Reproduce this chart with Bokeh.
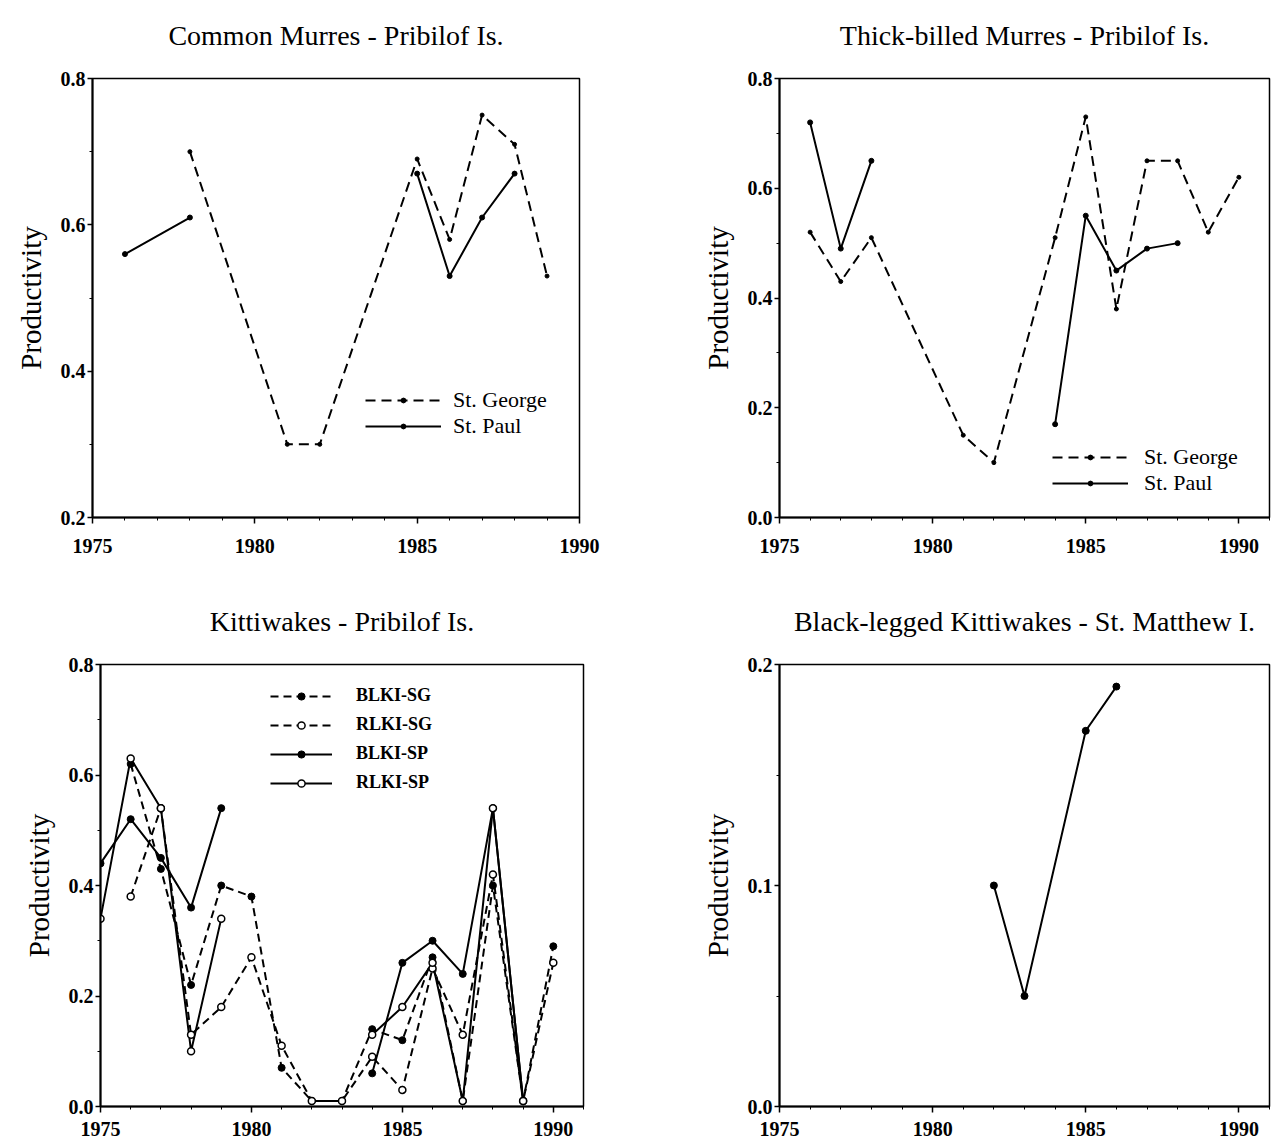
import math
from bokeh.plotting import figure
from bokeh.layouts import column, row
from bokeh.models import Range1d, FixedTicker, PrintfTickFormatter, Legend, LegendItem, Title
from bokeh.embed import file_html
from bokeh.resources import INLINE

nan = float("nan")

# ---- Common Murres - Pribilof Is. ----
cm_george_years = [1978, 1981, 1982, 1985, 1986, 1987, 1988, 1989]
cm_george_vals = [0.70, 0.30, 0.30, 0.69, 0.58, 0.75, 0.71, 0.53]
cm_paul_years = [1976, 1978, 1980, 1985, 1986, 1987, 1988]
cm_paul_vals = [0.56, 0.61, nan, 0.67, 0.53, 0.61, 0.67]

# ---- Thick-billed Murres - Pribilof Is. ----
tb_george_years = [1976, 1977, 1978, 1981, 1982, 1984, 1985, 1986, 1987, 1988, 1989, 1990]
tb_george_vals = [0.52, 0.43, 0.51, 0.15, 0.10, 0.51, 0.73, 0.38, 0.65, 0.65, 0.52, 0.62]
tb_paul_years = [1976, 1977, 1978, 1981, 1984, 1985, 1986, 1987, 1988]
tb_paul_vals = [0.72, 0.49, 0.65, nan, 0.17, 0.55, 0.45, 0.49, 0.50]

# ---- Kittiwakes - Pribilof Is. ----
kw_years = list(range(1975, 1991))
blki_sg = [nan, 0.62, 0.43, 0.22, 0.40, 0.38, 0.07, 0.01, 0.01, 0.14, 0.12, 0.27, 0.01, 0.40, 0.01, 0.29]
rlki_sg = [nan, 0.38, 0.54, 0.13, 0.18, 0.27, 0.11, 0.01, 0.01, 0.09, 0.03, 0.25, 0.13, 0.42, 0.01, 0.26]
blki_sp = [0.44, 0.52, 0.45, 0.36, 0.54, nan, nan, nan, nan, 0.06, 0.26, 0.30, 0.24, 0.54, 0.01, nan]
rlki_sp = [0.34, 0.63, 0.54, 0.10, 0.34, nan, nan, nan, nan, 0.13, 0.18, 0.26, 0.01, 0.54, 0.01, nan]

# ---- Black-legged Kittiwakes - St. Matthew I. ----
sm_years = [1982, 1983, 1985, 1986]
sm_vals = [0.10, 0.05, 0.17, 0.19]

titles = ["Common Murres - Pribilof Is.", "Thick-billed Murres - Pribilof Is.",
          "Kittiwakes - Pribilof Is.", "Black-legged Kittiwakes - St. Matthew I."]
x_major = [1975, 1980, 1985, 1990]
x_minor = list(range(1975, 1992))

FONT = "Liberation Serif"


def make_fig(title, xr, yr, yticks, yminor, fw, fh, bl, br, bt, bb, xstand, gap):
    p = figure(x_range=Range1d(*xr), y_range=Range1d(*yr),
               frame_width=fw, frame_height=fh,
               min_border_left=bl, min_border_right=br,
               min_border_top=bt, min_border_bottom=bb,
               output_backend="svg", toolbar_location=None)
    p.grid.visible = False
    p.outline_line_color = "black"
    p.outline_line_width = 1.5
    p.outline_line_alpha = 1
    p.background_fill_color = "white"
    p.border_fill_color = "white"

    # spacer (closest to frame) then the real title above it
    p.add_layout(Title(text=" ", text_font_size="1px", standoff=gap), "above")
    p.add_layout(Title(text=title, align="center", standoff=0, text_font=FONT,
                       text_font_size="28px", text_font_style="normal",
                       text_color="black"), "above")

    xa = p.xaxis[0]
    xa.ticker = FixedTicker(ticks=x_major, minor_ticks=x_minor)
    xa.formatter = PrintfTickFormatter(format="%d")
    ya = p.yaxis[0]
    ya.ticker = FixedTicker(ticks=yticks, minor_ticks=yminor)
    ya.formatter = PrintfTickFormatter(format="%.1f")
    ya.axis_label = "Productivity"
    for ax in (xa, ya):
        ax.axis_line_width = 2
        ax.axis_line_color = "black"
        ax.major_tick_line_color = "black"
        ax.minor_tick_line_color = "black"
        ax.major_tick_line_width = 1.5
        ax.minor_tick_line_width = 1
        ax.major_label_text_font = FONT
        ax.major_label_text_font_size = "20px"
        ax.major_label_text_font_style = "bold"
        ax.major_label_text_color = "black"
        ax.axis_label_text_font = FONT
        ax.axis_label_text_font_size = "29px"
        ax.axis_label_text_font_style = "normal"
        ax.axis_label_text_color = "black"
    xa.major_tick_out = 6
    xa.major_tick_in = 0
    xa.minor_tick_out = 3
    xa.minor_tick_in = 0
    xa.major_label_standoff = xstand
    ya.major_tick_out = 5
    ya.major_tick_in = 0
    ya.minor_tick_out = 3
    ya.minor_tick_in = 0
    ya.major_label_standoff = 2
    ya.axis_label_standoff = 11
    return p


def legend(p, items, loc, glyph_w, glyph_h, font_size, style, standoff, spacing):
    lg = Legend(items=[LegendItem(label=l, renderers=r) for l, r in items],
                location=loc, orientation="vertical")
    lg.border_line_alpha = 0
    lg.background_fill_alpha = 0
    lg.glyph_width = glyph_w
    lg.glyph_height = glyph_h
    lg.label_height = 20
    lg.label_standoff = standoff
    lg.spacing = spacing
    lg.padding = 0
    lg.margin = 0
    lg.label_text_font = FONT
    lg.label_text_font_size = font_size
    lg.label_text_font_style = style
    lg.label_text_color = "black"
    p.add_layout(lg, "center")


# Panel 1
p1 = make_fig(titles[0], (1975, 1990), (0.2, 0.8), [0.2, 0.4, 0.6, 0.8],
              [0.2, 0.3, 0.4, 0.5, 0.6, 0.7, 0.8], 487, 439, 92, 40, 78, 78, 15, 25)
g1 = p1.line(cm_george_years, cm_george_vals, line_color="black", line_width=2, line_dash="10 6")
g1s = p1.scatter(cm_george_years, cm_george_vals, size=4, color="black")
s1 = p1.line(cm_paul_years, cm_paul_vals, line_color="black", line_width=2)
s1s = p1.scatter(cm_paul_years, cm_paul_vals, size=5, color="black")
legend(p1, [("St. George", [g1, g1s]), ("St. Paul", [s1, s1s])], (273, 78), 76, 12, "22px", "normal", 12, 0)

# Panel 2
p2 = make_fig(titles[1], (1975, 1991), (0.0, 0.8), [0.0, 0.2, 0.4, 0.6, 0.8],
              [0.0, 0.1, 0.2, 0.3, 0.4, 0.5, 0.6, 0.7, 0.8], 490, 439, 160, 2, 78, 78, 15, 25)
g2 = p2.line(tb_george_years, tb_george_vals, line_color="black", line_width=2, line_dash="10 6")
g2s = p2.scatter(tb_george_years, tb_george_vals, size=4, color="black")
s2 = p2.line(tb_paul_years, tb_paul_vals, line_color="black", line_width=2)
s2s = p2.scatter(tb_paul_years, tb_paul_vals, size=5, color="black")
legend(p2, [("St. George", [g2, g2s]), ("St. Paul", [s2, s2s])], (273, 21), 76, 12, "22px", "normal", 16, 0)

# Panel 3 (lines first, then filled markers, then open markers on top)
p3 = make_fig(titles[2], (1975, 1991), (0.0, 0.8), [0.0, 0.2, 0.4, 0.6, 0.8],
              [0.0, 0.1, 0.2, 0.3, 0.4, 0.5, 0.6, 0.7, 0.8], 483, 442, 100, 40, 69, 38, 9, 25)
r_bsg = p3.line(kw_years, blki_sg, line_color="black", line_width=2, line_dash="8 5")
r_rsg = p3.line(kw_years, rlki_sg, line_color="black", line_width=2, line_dash="8 5")
r_bsp = p3.line(kw_years, blki_sp, line_color="black", line_width=2)
r_rsp = p3.line(kw_years, rlki_sp, line_color="black", line_width=2)
m_bsg = p3.scatter(kw_years, blki_sg, size=7, color="black")
m_bsp = p3.scatter(kw_years, blki_sp, size=7, color="black")
m_rsg = p3.scatter(kw_years, rlki_sg, size=7, line_color="black", fill_color="white", line_width=1.5)
m_rsp = p3.scatter(kw_years, rlki_sp, size=7, line_color="black", fill_color="white", line_width=1.5)
legend(p3, [("BLKI-SG", [r_bsg, m_bsg]), ("RLKI-SG", [r_rsg, m_rsg]),
            ("BLKI-SP", [r_bsp, m_bsp]), ("RLKI-SP", [r_rsp, m_rsp])],
       (170, 313), 62, 18, "18px", "bold", 24, 8)

# Panel 4
p4 = make_fig(titles[3], (1975, 1991), (0.0, 0.2), [0.0, 0.1, 0.2],
              [0.0, 0.05, 0.1, 0.15, 0.2], 490, 442, 156, 2, 69, 38, 9, 25)
p4.line(sm_years, sm_vals, line_color="black", line_width=2)
p4.scatter(sm_years, sm_vals, size=7, color="black")

layout = column(row(p1, p2), row(p3, p4))
open("out.html", "w").write(file_html(layout, INLINE))
